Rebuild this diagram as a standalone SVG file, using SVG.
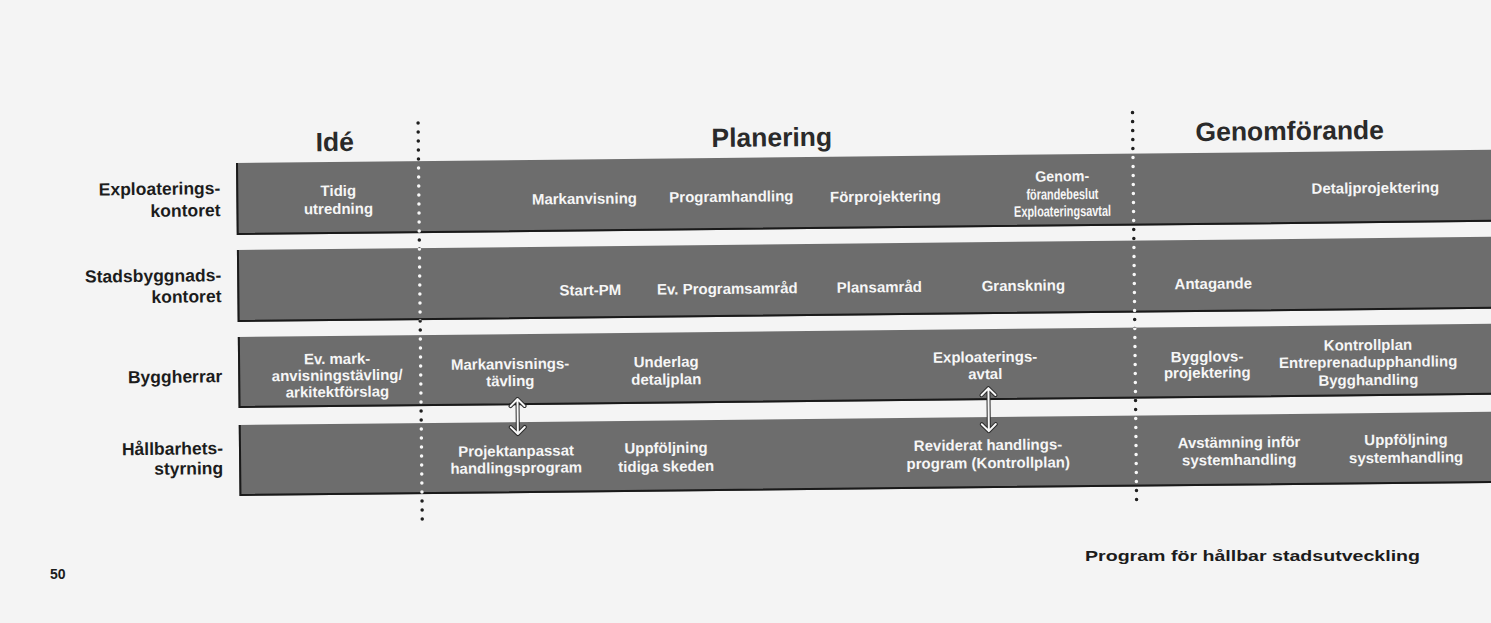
<svg xmlns="http://www.w3.org/2000/svg" width="1491" height="623" viewBox="0 0 1491 623">
<style>
.band{fill:#6d6d6d}
.edge{fill:none;stroke:#1a1a1a;stroke-width:2}
.bt{font-family:"Liberation Sans",Arial,sans-serif;font-weight:bold;font-size:15px;fill:#f6f6f6;text-anchor:middle}
.lbl{font-family:"Liberation Sans",Arial,sans-serif;font-weight:bold;font-size:17.5px;fill:#1c1c1c;text-anchor:end}
.hdr{font-family:"Liberation Sans",Arial,sans-serif;font-weight:bold;font-size:26.5px;fill:#2a2a2a;text-anchor:middle}
.ft{font-family:"Liberation Sans",Arial,sans-serif;font-weight:bold;font-size:14px;fill:#1c1c1c}
.dots{fill:none;stroke:#1e1e1e;stroke-width:3.5;stroke-linecap:round;stroke-dasharray:0 9}
.dotsw{fill:none;stroke:#f8f8f8;stroke-width:3.5;stroke-linecap:round;stroke-dasharray:0 9}
.arU{fill:none;stroke:#2a2a2a;stroke-width:4;stroke-linecap:round;stroke-linejoin:round}
.arW{fill:none;stroke:#f8f8f8;stroke-width:2;stroke-linecap:round;stroke-linejoin:round}
</style>
<defs>
<clipPath id="bandclip">
<rect x="236" y="163" width="1280" height="72"/>
<rect x="236" y="250" width="1280" height="72"/>
<rect x="236" y="337" width="1280" height="71"/>
<rect x="236" y="425" width="1280" height="71"/>
</clipPath>
</defs>
<rect x="0" y="0" width="1491" height="623" fill="#f4f4f4"/>
<g transform="rotate(-0.6 236 163)">
<g id="headers">
<text class="hdr" x="335" y="152">Idé</text>
<text class="hdr" x="772" y="152">Planering</text>
<text class="hdr" x="1290" y="151">Genomförande</text>
</g>
<g id="phase-dividers-back">
<path class="dots" d="M418.5 125 V528"/>
<path class="dots" d="M1133 122 V515"/>
</g>
<g id="lane-exploateringskontoret">
<text class="lbl" x="220" y="194">Exploaterings-</text>
<text class="lbl" x="220" y="216">kontoret</text>
<rect class="band" x="236" y="163" width="1280" height="72"/>
<path class="edge" d="M237 163 V234 H1516"/>
<text class="bt" x="338" y="197">Tidig</text>
<text class="bt" x="338" y="215">utredning</text>
<text class="bt" x="584" y="207.5">Markanvisning</text>
<text class="bt" x="731" y="207">Programhandling</text>
<text class="bt" x="885" y="208.5">Förprojektering</text>
<text class="bt" x="1062" y="190" textLength="54" lengthAdjust="spacingAndGlyphs">Genom-</text>
<text class="bt" x="1062" y="208" textLength="72" lengthAdjust="spacingAndGlyphs">förandebeslut</text>
<text class="bt" x="1062" y="225" textLength="97" lengthAdjust="spacingAndGlyphs">Exploateringsavtal</text>
<text class="bt" x="1375" y="205">Detaljprojektering</text>
</g>
<g id="lane-stadsbyggnadskontoret">
<text class="lbl" x="220" y="281">Stadsbyggnads-</text>
<text class="lbl" x="220" y="302">kontoret</text>
<rect class="band" x="236" y="250" width="1280" height="72"/>
<path class="edge" d="M237 250 V321 H1516"/>
<text class="bt" x="589" y="299">Start-PM</text>
<text class="bt" x="726" y="299">Ev. Programsamråd</text>
<text class="bt" x="878" y="299">Plansamråd</text>
<text class="bt" x="1022" y="299">Granskning</text>
<text class="bt" x="1212" y="299">Antagande</text>
</g>
<g id="lane-byggherrar">
<text class="lbl" x="220" y="382">Byggherrar</text>
<rect class="band" x="236" y="337" width="1280" height="71"/>
<path class="edge" d="M237 337 V407 H1516"/>
<text class="bt" x="335" y="365">Ev. mark-</text>
<text class="bt" x="335" y="381.5">anvisningstävling/</text>
<text class="bt" x="335" y="398">arkitektförslag</text>
<text class="bt" x="508" y="372">Markanvisnings-</text>
<text class="bt" x="508" y="389">tävling</text>
<text class="bt" x="664" y="371.5">Underlag</text>
<text class="bt" x="664" y="389">detaljplan</text>
<text class="bt" x="983" y="370">Exploaterings-</text>
<text class="bt" x="983" y="387">avtal</text>
<text class="bt" x="1205" y="372">Bygglovs-</text>
<text class="bt" x="1205" y="388">projektering</text>
<text class="bt" x="1366" y="362">Kontrollplan</text>
<text class="bt" x="1366" y="379">Entreprenadupphandling</text>
<text class="bt" x="1366" y="397">Bygghandling</text>
</g>
<g id="lane-hallbarhetsstyrning">
<text class="lbl" x="220" y="454">Hållbarhets-</text>
<text class="lbl" x="220" y="474">styrning</text>
<rect class="band" x="236" y="425" width="1280" height="71"/>
<path class="edge" d="M237 425 V495 H1516"/>
<text class="bt" x="513" y="459">Projektanpassat</text>
<text class="bt" x="513" y="476">handlingsprogram</text>
<text class="bt" x="663" y="457.5">Uppföljning</text>
<text class="bt" x="663" y="476">tidiga skeden</text>
<text class="bt" x="985" y="458">Reviderat handlings-</text>
<text class="bt" x="985" y="476">program (Kontrollplan)</text>
<text class="bt" x="1236" y="458">Avstämning inför</text>
<text class="bt" x="1236" y="475.5">systemhandling</text>
<text class="bt" x="1403" y="457">Uppföljning</text>
<text class="bt" x="1403" y="475">systemhandling</text>
</g>
<g id="phase-dividers-front" clip-path="url(#bandclip)">
<path class="dotsw" d="M418.5 125 V528"/>
<path class="dotsw" d="M1133 122 V515"/>
</g>
<g id="connectors">
<path class="arU" d="M515 402 V437 M508 409 L515 402 L522 409 M508 430 L515 437 L522 430"/>
<path class="arW" d="M515 402 V437 M508 409 L515 402 L522 409 M508 430 L515 437 L522 430"/>
<path class="arU" d="M986 396 V439 M979 403 L986 396 L993 403 M979 432 L986 439 L993 432"/>
<path class="arW" d="M986 396 V439 M979 403 L986 396 L993 403 M979 432 L986 439 L993 432"/>
</g>
</g>
<g id="footer">
<text class="ft" x="50" y="579">50</text>
<text class="ft" x="1085" y="561" textLength="335" lengthAdjust="spacingAndGlyphs">Program för hållbar stadsutveckling</text>
</g>
</svg>
